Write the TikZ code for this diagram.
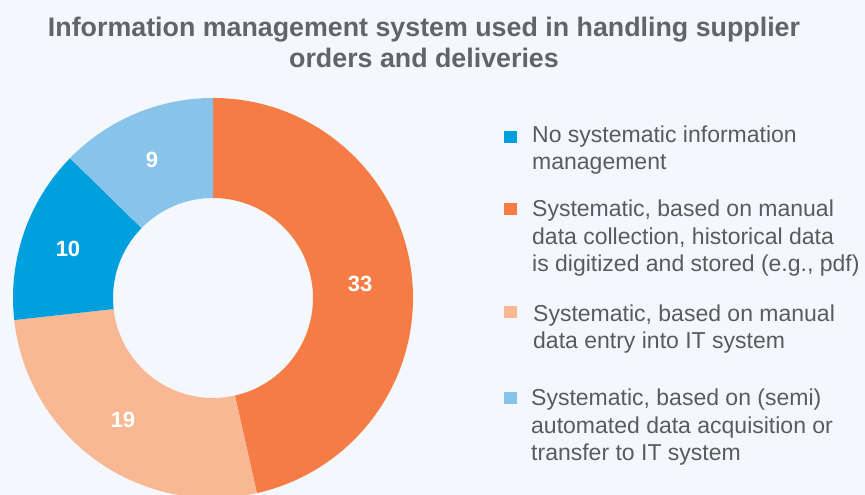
\documentclass[tikz,border=0pt]{standalone}
\usepackage{fontspec}
\setmainfont{Liberation Sans}
\usetikzlibrary{calc}
\definecolor{bgcol}{HTML}{F4F7FC}
\definecolor{titlegray}{HTML}{626469}
\definecolor{txtgray}{HTML}{5A5B5F}
\definecolor{orangedark}{HTML}{F57D45}
\definecolor{orangelight}{HTML}{F9B894}
\definecolor{bluedark}{HTML}{00A0DE}
\definecolor{bluelight}{HTML}{88C4EA}
\begin{document}
\begin{tikzpicture}[x=1pt, y=1pt,
    val/.style = {font=\fontsize{22}{26}\selectfont\bfseries, text=white},
    key/.style = {fill=#1, minimum size=12.5pt, inner sep=0pt},
    legtext/.style = {anchor=base west, align=left, inner sep=0pt, text=txtgray,
                      font=\fontsize{23}{27.7}\selectfont}]
    \fill[bgcol] (0,0) rectangle (865,495);
    \useasboundingbox (0,0) rectangle (865,495);

    \node[anchor=base, align=center, inner sep=0pt, text=titlegray,
          font=\fontsize{26.8}{31}\selectfont\bfseries] (title) at (424,427)
          {Information management system used in handling supplier\\orders and deliveries};

    % donut
    \coordinate (c) at (213,197);
    \foreach \a/\b/\col in {90/-77.324/orangedark, -77.324/-173.662/orangelight,
                            -173.662/-224.366/bluedark, -224.366/-270/bluelight}
        \fill[\col] ($(c)+(\a:200)$) arc[start angle=\a, end angle=\b, radius=200]
            -- ($(c)+(\b:100)$) arc[start angle=\b, end angle=\a, radius=100] -- cycle;

    \node[val] (v33) at (360,211) {33};
    \node[val] (v19) at (123,75) {19};
    \node[val] (v10) at (68,246) {10};
    \node[val] (v9) at (152,335) {9};

    % legend
    \node[key=bluedark] (k1) at (510.5,358) {};
    \node[key=orangedark] (k2) at (510.5,286) {};
    \node[key=orangelight] (k3) at (510.5,183) {};
    \node[key=bluelight] (k4) at (510.5,97) {};

    \node[legtext] (l1) at (532,325) {No systematic information\\management};
    \node[legtext] (l2) at (532,223) {Systematic, based on manual\\data collection, historical data\\is digitized and stored (e.g., pdf)};
    \node[legtext] (l3) at (533,146) {Systematic, based on manual\\data entry into IT system};
    \node[legtext] (l4) at (531,34) {Systematic, based on (semi)\\automated data acquisition or\\transfer to IT system};
\end{tikzpicture}
\end{document}
